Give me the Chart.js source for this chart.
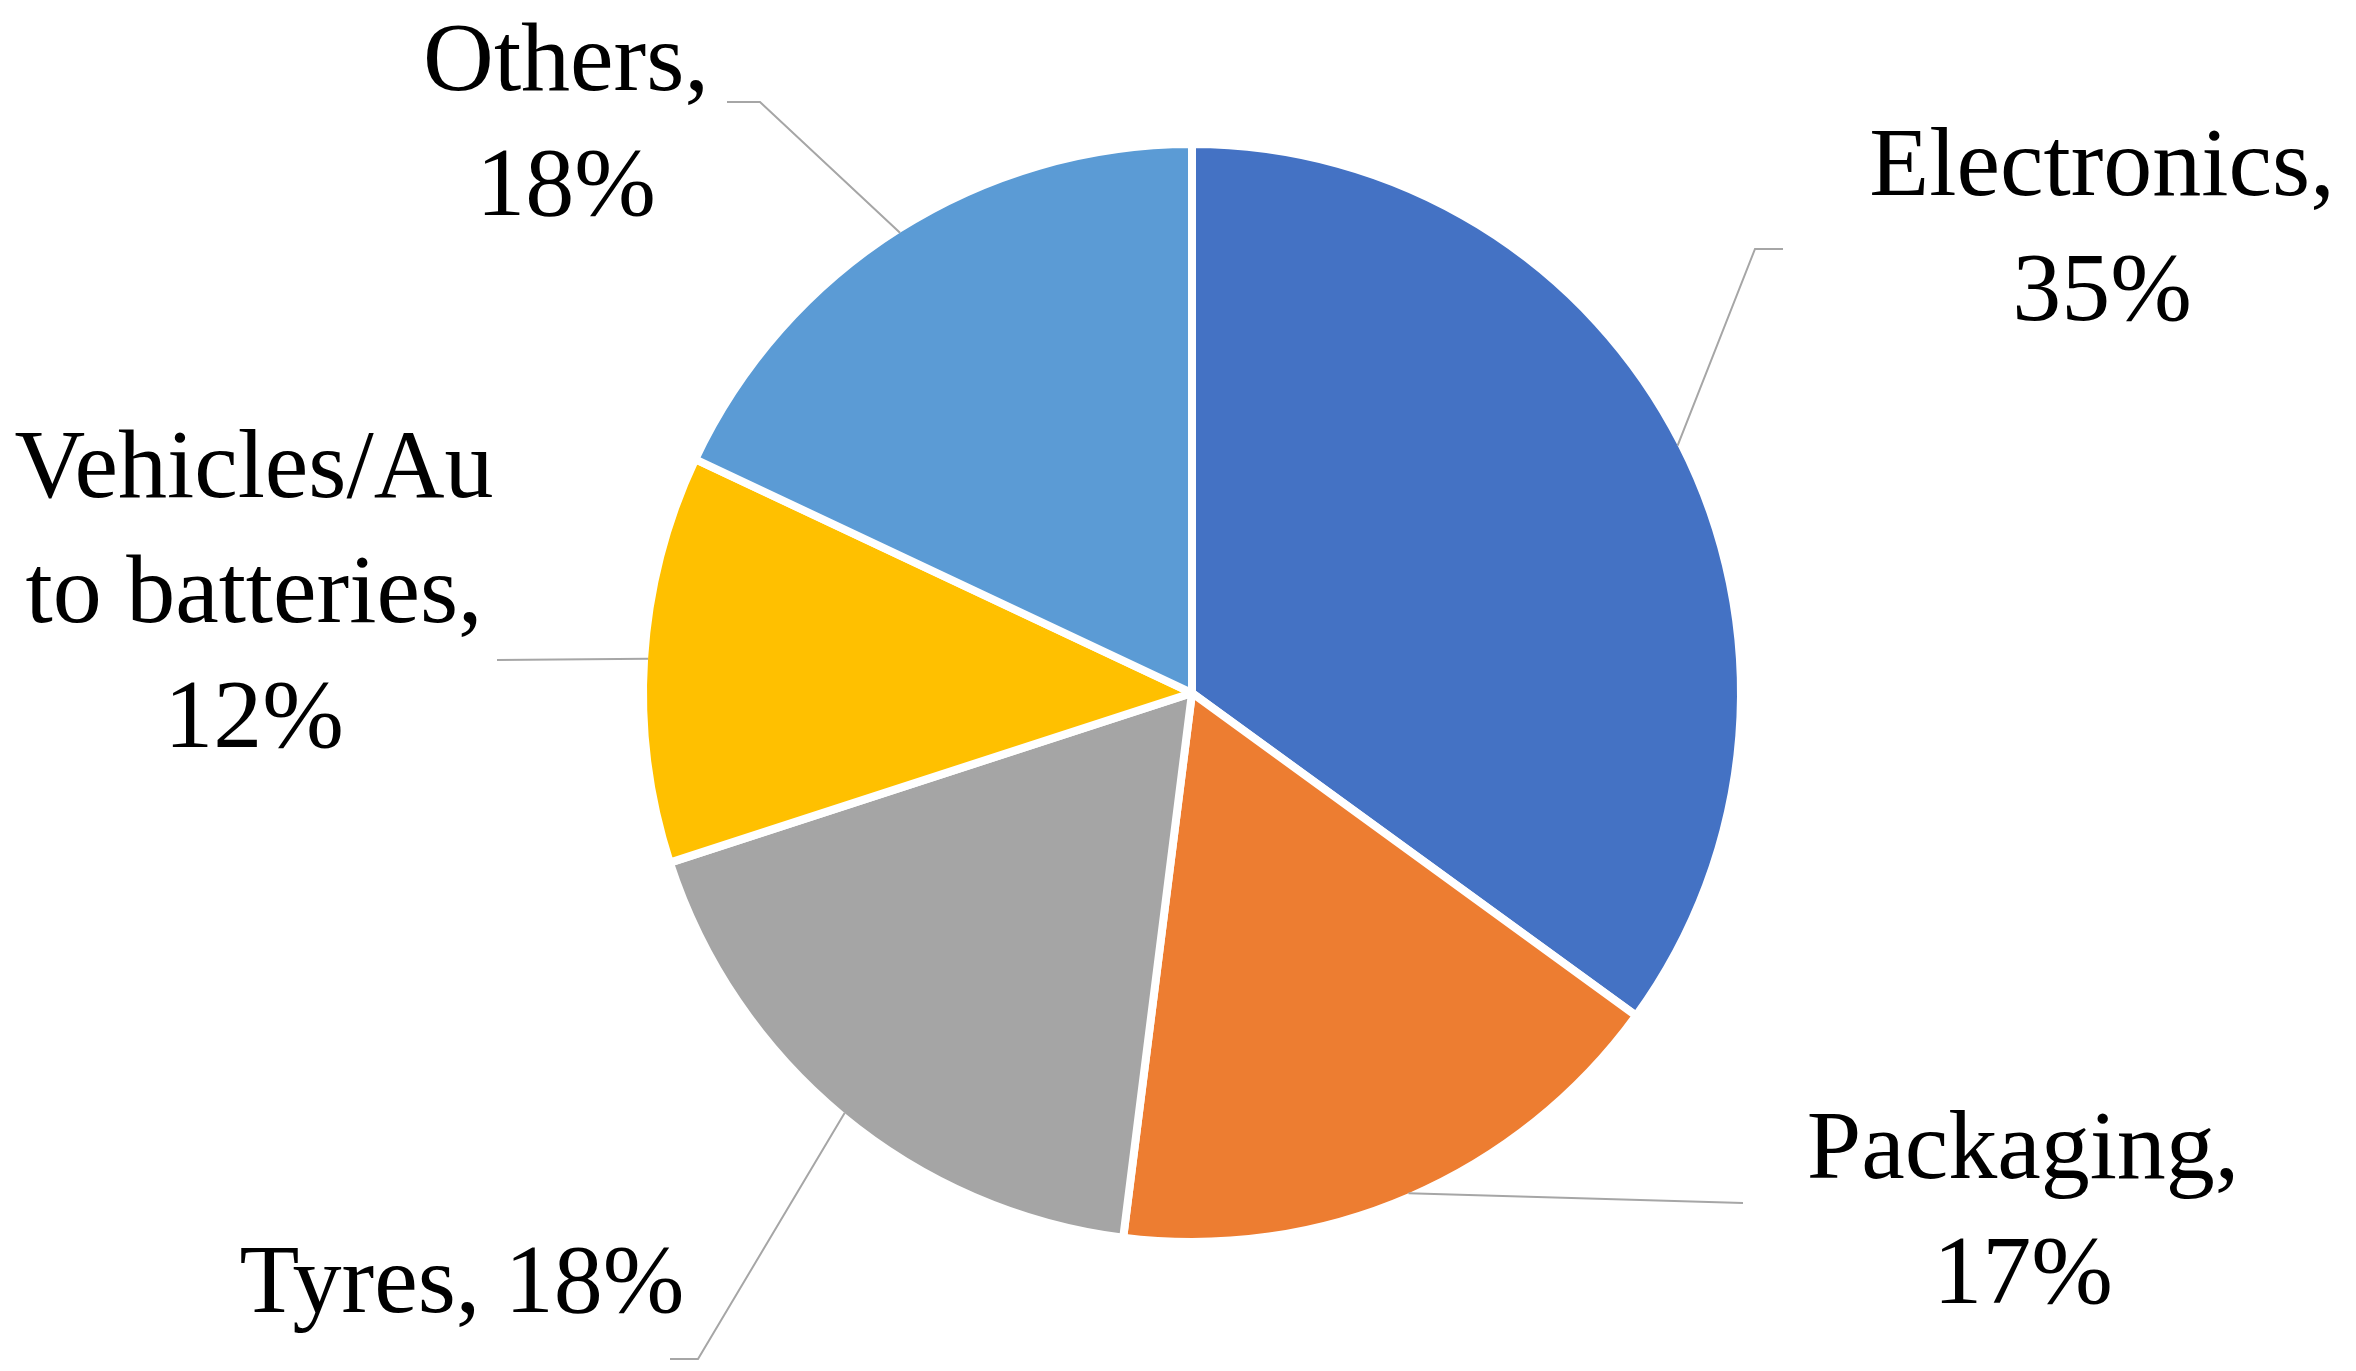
<!DOCTYPE html>
<html lang="en">

<head>
    <meta charset="UTF-8">
    <title>Pie chart</title>
    <script src="https://cdn.jsdelivr.net/npm/chart.js@4.4.1/dist/chart.umd.min.js"></script>
    <style>
        html, body { margin: 0; padding: 0; background: #ffffff; }
        #box { width: 2356px; height: 1371px; }
    </style>
</head>

<body>
    <div id="box">
        <canvas id="mychart"></canvas>
    </div>

    <script>
        // data
        var categories = ['Electronics', 'Packaging', 'Tyres', 'Vehicles/Auto batteries', 'Others'];
        var shares = [35, 17, 18, 12, 18];
        var sliceColors = ['#4472C4', '#ED7D31', '#A5A5A5', '#FFC000', '#5B9BD5'];
        // label text, wrapped like in the picture
        var labelText = [
            ['Electronics,', '35%'],
            ['Packaging,', '17%'],
            ['Tyres, 18%'],
            ['Vehicles/Au', 'to batteries,', '12%'],
            ['Others,', '18%']
        ];

        // where each label sits and how its leader line bends (canvas px)
        var labelLayout = [
            { x: 2102, y: 195, bend: [1755, 249], end: [1783, 249] },
            { x: 2023, y: 1178, bend: null, end: [1743, 1203] },
            { x: 462, y: 1312, bend: [698, 1359], end: [670, 1359] },
            { x: 254, y: 497, bend: null, end: [497, 660] },
            { x: 566, y: 90, bend: [760, 102], end: [727, 102] }
        ];
        var lineGap = 125;

        var pieLabels = {
            id: 'pieLabels',
            afterDraw: function (chart) {
                var ctx = chart.ctx;
                var arcs = chart.getDatasetMeta(0).data;
                ctx.save();
                arcs.forEach(function (arc, i) {
                    var p = arc.getProps(['x', 'y', 'startAngle', 'endAngle', 'outerRadius']);
                    var mid = (p.startAngle + p.endAngle) / 2;
                    var ax = p.x + Math.cos(mid) * (p.outerRadius - 4);
                    var ay = p.y + Math.sin(mid) * (p.outerRadius - 4);
                    var lay = labelLayout[i];

                    ctx.strokeStyle = '#A6A6A6';
                    ctx.lineWidth = 2;
                    ctx.beginPath();
                    ctx.moveTo(ax, ay);
                    if (lay.bend) ctx.lineTo(lay.bend[0], lay.bend[1]);
                    ctx.lineTo(lay.end[0], lay.end[1]);
                    ctx.stroke();

                    ctx.fillStyle = '#000000';
                    ctx.font = '98px "Liberation Serif", serif';
                    ctx.textAlign = 'center';
                    ctx.textBaseline = 'alphabetic';
                    labelText[i].forEach(function (line, k) {
                        ctx.fillText(line, lay.x, lay.y + k * lineGap);
                    });
                });
                ctx.restore();
            }
        };

        var ctx = document.getElementById('mychart');

        var mychart = new Chart(ctx, {
            type: 'pie',
            data: {
                labels: categories,
                datasets: [{
                    data: shares,
                    backgroundColor: sliceColors,
                    borderColor: '#ffffff',
                    borderWidth: 8
                }]
            },
            options: {
                responsive: true,
                maintainAspectRatio: false,
                animation: false,
                layout: {
                    padding: { top: 140, bottom: 125, left: 400, right: 372 }
                },
                plugins: {
                    legend: { display: false },
                    tooltip: { enabled: false }
                }
            },
            plugins: [pieLabels]
        });
    </script>
</body>

</html>
